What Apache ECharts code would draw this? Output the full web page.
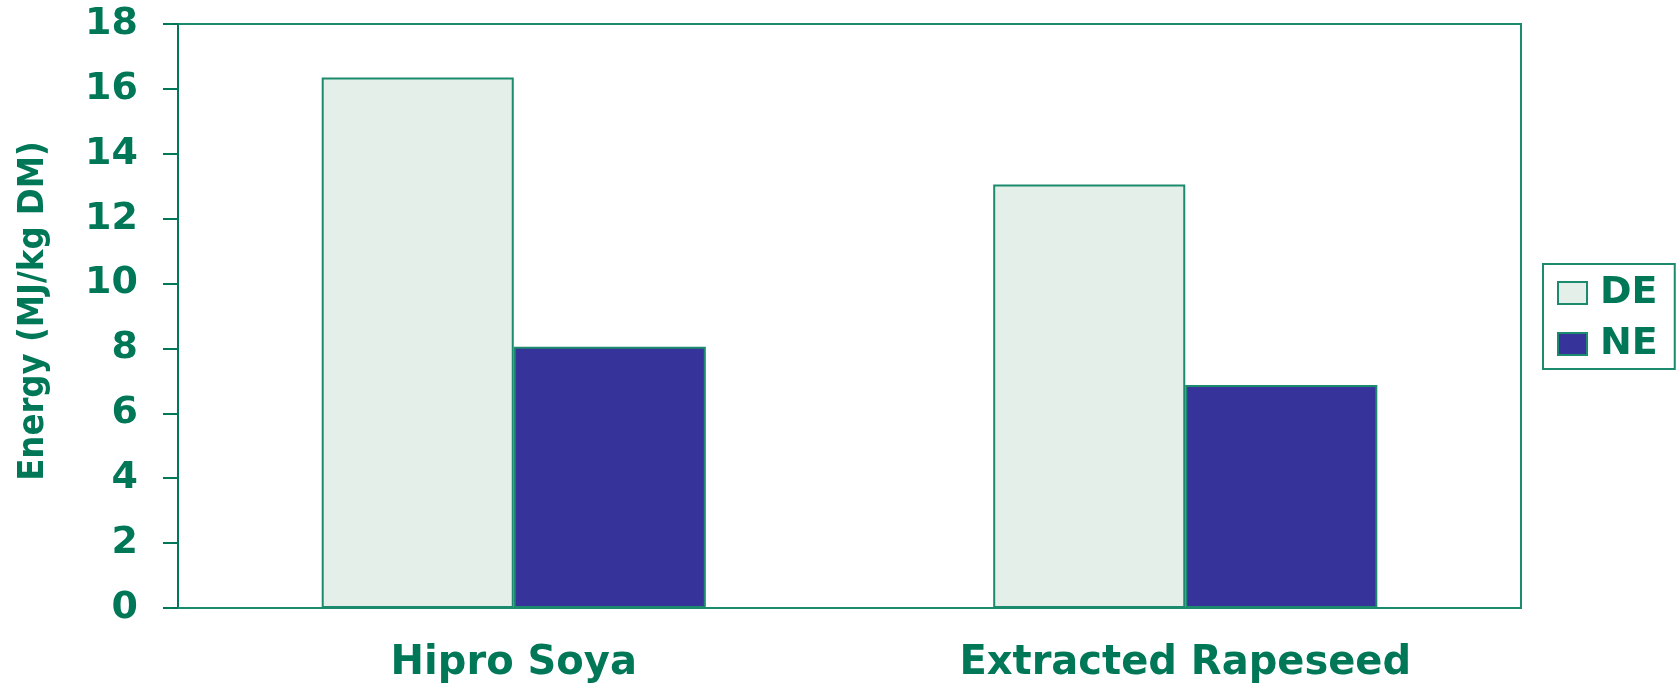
<!DOCTYPE html>
<html>
<head>
<meta charset="utf-8">
<title>Energy</title>
<script src="https://cdn.jsdelivr.net/npm/echarts@6/dist/echarts.min.js"></script>
<style>
  html, body { margin: 0; padding: 0; background: #fff; }
  #chart { width: 1677px; height: 689px; }
</style>
</head>
<body>
<div id="chart"></div>
<script>
// 数据
var categories = ['Hipro Soya', 'Extracted Rapeseed'];
var deValues = [16.35, 13.05];
var neValues = [8.05, 6.87];
var seriesNames = ['DE', 'NE'];

var green = '#007858';
var lineGreen = '#1c8a6c';

var myChart = echarts.init(document.getElementById('chart'));

var option = {
    backgroundColor: '#fff',
    animation: false,
    grid: {
        left: 178,
        right: 156,
        top: 24,
        bottom: 81,
        show: true,
        borderColor: lineGreen,
        borderWidth: 2
    },
    legend: {
        data: seriesNames,
        icon: 'rect',
        orient: 'vertical',
        left: 1543,
        top: 264,
        itemWidth: 29,
        itemHeight: 22,
        itemGap: 13,
        padding: [10, 17, 6, 14],
        borderColor: lineGreen,
        borderWidth: 2,
        textStyle: {
            color: green,
            fontFamily: 'DejaVu Sans',
            fontWeight: 'bold',
            fontSize: 38,
            lineHeight: 38,
            padding: [0, 0, 0, 8]
        }
    },
    xAxis: {
        type: 'category',
        data: categories,
        axisLine: { lineStyle: { color: lineGreen, width: 2 } },
        axisTick: { length: 12, lineStyle: { color: lineGreen, width: 2 } },
        axisLabel: {
            color: green,
            fontFamily: 'DejaVu Sans',
            fontWeight: 'bold',
            fontSize: 40,
            margin: 36
        }
    },
    yAxis: {
        type: 'value',
        min: 0,
        max: 18,
        interval: 2,
        name: 'Energy (MJ/kg DM)',
        nameLocation: 'middle',
        nameRotate: 90,
        nameGap: 126,
        nameTextStyle: {
            color: green,
            fontFamily: 'DejaVu Sans Condensed, Liberation Sans Narrow, sans-serif',
            fontWeight: 'bold',
            fontSize: 36,
            padding: [0, 0, 0, 10]
        },
        axisLine: { show: true, lineStyle: { color: green, width: 2 } },
        axisTick: { show: true, length: 15, lineStyle: { color: green, width: 2 } },
        splitLine: { show: false },
        axisLabel: {
            color: green,
            fontFamily: 'DejaVu Sans',
            fontWeight: 'bold',
            fontSize: 38,
            margin: 40
        }
    },
    series: [
        {
            name: seriesNames[0],
            type: 'bar',
            data: deValues,
            barGap: '0%',
            barCategoryGap: '42.8%',
            itemStyle: { color: '#e5efe9', borderColor: lineGreen, borderWidth: 2 }
        },
        {
            name: seriesNames[1],
            type: 'bar',
            data: neValues,
            itemStyle: { color: '#36349a', borderColor: lineGreen, borderWidth: 2 }
        }
    ]
};

myChart.setOption(option);
</script>
</body>
</html>
